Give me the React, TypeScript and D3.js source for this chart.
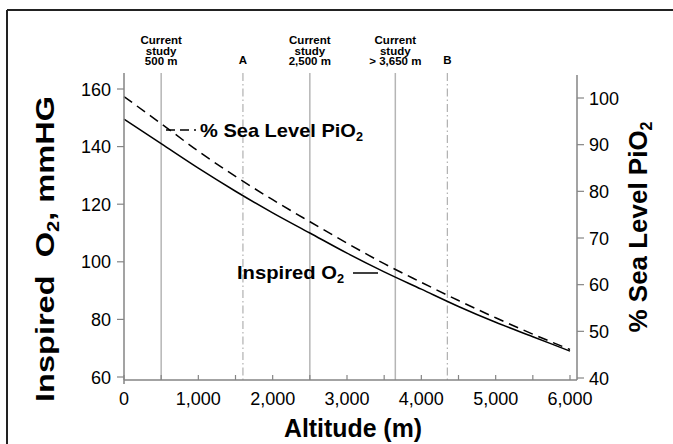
import React from "react";
import * as d3 from "d3";

const altitudes = [0, 500, 1000, 1500, 2000, 2500, 3000, 3500, 4000, 4500, 5000, 5500, 6000];
const inspiredO2 = [149.5, 141, 132.5, 124.5, 117, 110, 103, 96.5, 90.5, 84.5, 79, 74, 69];
const pctSeaLevel = [100.3, 94.5, 88.6, 83.2, 78.2, 73.5, 68.9, 64.5, 60.5, 56.6, 52.9, 49.4, 46.1];

const xTicks = [0, 1000, 2000, 3000, 4000, 5000, 6000];
const xMinorTicks = [0, 500, 1000, 1500, 2000, 2500, 3000, 3500, 4000, 4500, 5000, 5500, 6000];
const leftTicks = [60, 80, 100, 120, 140, 160];
const rightTicks = [40, 50, 60, 70, 80, 90, 100];

const studyLines = [
  { alt: 500, lines: ["Current", "study", "500 m"] },
  { alt: 2500, lines: ["Current", "study", "2,500 m"] },
  { alt: 3650, lines: ["Current", "study", "> 3,650 m"] },
];
const refLines = [
  { alt: 1600, label: "A" },
  { alt: 4350, label: "B" },
];

const FONT = "'Liberation Sans', Arial, Helvetica, sans-serif";
const AXIS = "#858585";

export default function App() {
  const x = d3.scaleLinear().domain([0, 6000]).range([124, 570]);
  const yL = d3.scaleLinear().domain([60, 160]).range([377, 89]);
  const yR = d3.scaleLinear().domain([40, 100]).range([378, 98]);
  const axisY = 380;

  const solid = d3
    .line<number>()
    .x((_, i) => x(altitudes[i]))
    .y((d) => yL(d))
    .curve(d3.curveMonotoneX)(inspiredO2) as string;
  const dashed = d3
    .line<number>()
    .x((_, i) => x(altitudes[i]))
    .y((d) => yR(d))
    .curve(d3.curveMonotoneX)(pctSeaLevel) as string;

  return (
    <svg
      width={673}
      height={444}
      style={{ position: "absolute", left: 0, top: 0, background: "#fff" }}
      fontFamily={FONT}
    >
      <rect x={0} y={0} width={673} height={444} fill="#fff" />
      {/* frame */}
      <line x1={7} y1={10} x2={673} y2={10} stroke="#222" strokeWidth={2} />
      <line x1={7} y1={10} x2={7} y2={444} stroke="#222" strokeWidth={2} />

      {/* vertical reference lines */}
      {studyLines.map((s) => (
        <line key={s.alt} x1={x(s.alt)} x2={x(s.alt)} y1={73} y2={axisY} stroke="#b5b5b5" strokeWidth={1.5} />
      ))}
      {refLines.map((r) => (
        <line
          key={r.alt}
          x1={x(r.alt)}
          x2={x(r.alt)}
          y1={73}
          y2={axisY}
          stroke="#b0b0b0"
          strokeWidth={1.2}
          strokeDasharray="8,3,1.5,3"
        />
      ))}
      {studyLines.map((s) => (
        <text key={"t" + s.alt} textAnchor="middle" fontSize={11.5} fontWeight="bold" fill="#000">
          {s.lines.map((l, i) => (
            <tspan key={i} x={x(s.alt)} y={44 + i * 10.5}>
              {l}
            </tspan>
          ))}
        </text>
      ))}
      {refLines.map((r) => (
        <text key={"r" + r.label} x={x(r.alt)} y={64} textAnchor="middle" fontSize={11.5} fontWeight="bold">
          {r.label}
        </text>
      ))}

      {/* curves */}
      <path d={dashed} fill="none" stroke="#000" strokeWidth={1.5} strokeDasharray="10,6" />
      <path d={solid} fill="none" stroke="#000" strokeWidth={1.5} />

      {/* left axis */}
      <line x1={124} x2={124} y1={73} y2={384} stroke={AXIS} strokeWidth={1.5} />
      {leftTicks.map((t) => (
        <g key={"l" + t}>
          <line x1={117} x2={124} y1={yL(t)} y2={yL(t)} stroke={AXIS} strokeWidth={1.2} />
          <text x={111} y={yL(t) + 6.5} textAnchor="end" fontSize={18}>
            {t}
          </text>
        </g>
      ))}

      {/* right axis */}
      <line x1={577} x2={577} y1={75} y2={380} stroke={AXIS} strokeWidth={1.5} />
      {rightTicks.map((t) => (
        <g key={"r" + t}>
          <line x1={577} x2={584} y1={yR(t)} y2={yR(t)} stroke={AXIS} strokeWidth={1.2} />
          <text x={589} y={yR(t) + 6.5} textAnchor="start" fontSize={18}>
            {t}
          </text>
        </g>
      ))}

      {/* bottom axis */}
      <line x1={124} x2={577} y1={axisY} y2={axisY} stroke={AXIS} strokeWidth={1.5} />
      {xMinorTicks.map((t) => (
        <line key={"m" + t} x1={x(t)} x2={x(t)} y1={axisY - 5} y2={axisY} stroke={AXIS} strokeWidth={1.2} />
      ))}
      {xTicks.map((t) => (
        <text key={"x" + t} x={x(t)} y={405} textAnchor="middle" fontSize={18}>
          {d3.format(",")(t)}
        </text>
      ))}

      {/* axis titles */}
      <text x={353} y={437} textAnchor="middle" fontSize={25} fontWeight="bold" textLength={138} lengthAdjust="spacingAndGlyphs">
        Altitude (m)
      </text>
      <text
        transform="translate(54,249) rotate(-90)"
        textAnchor="middle"
        fontSize={26}
        fontWeight="bold"
        textLength={306}
        lengthAdjust="spacingAndGlyphs"
      >
        Inspired{"\u00a0\u00a0"}O<tspan fontSize={16} dy={5}>2</tspan>
        <tspan dy={-5}>, mmHG</tspan>
      </text>
      <text
        transform="translate(647,227) rotate(-90)"
        textAnchor="middle"
        fontSize={26}
        fontWeight="bold"
        textLength={211}
        lengthAdjust="spacingAndGlyphs"
      >
        % Sea Level PiO<tspan fontSize={16} dy={5}>2</tspan>
      </text>

      {/* curve labels */}
      <line x1={166} x2={196} y1={130} y2={130} stroke="#000" strokeWidth={1.5} strokeDasharray="9,5" />
      <text x={200} y={137} fontSize={19} fontWeight="bold" textLength={163} lengthAdjust="spacingAndGlyphs">
        % Sea Level PiO<tspan fontSize={12} dy={4}>2</tspan>
      </text>
      <text x={237} y={279} fontSize={19} fontWeight="bold" textLength={107} lengthAdjust="spacingAndGlyphs">
        Inspired O<tspan fontSize={12} dy={4}>2</tspan>
      </text>
      <line x1={353} x2={378} y1={273} y2={273} stroke="#000" strokeWidth={1.5} />
    </svg>
  );
}
